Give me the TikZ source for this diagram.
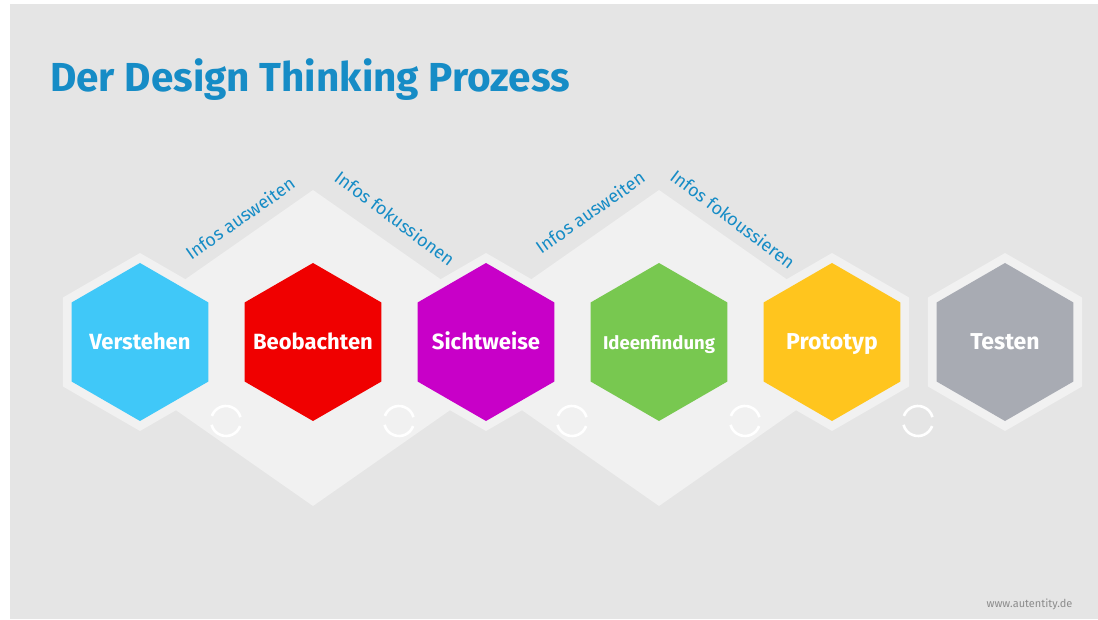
\documentclass[tikz,border=0pt]{standalone}
\usepackage{fontspec}
\setmainfont{Fira Sans}
\usetikzlibrary{positioning}
\definecolor{bggray}{HTML}{E5E5E5}
\definecolor{ringgray}{HTML}{F1F1F1}
\definecolor{rhombgray}{HTML}{F1F1F1}
\definecolor{titleblue}{HTML}{168CC6}
\definecolor{cVerstehen}{HTML}{40C8F8}
\definecolor{cBeobachten}{HTML}{F00000}
\definecolor{cSichtweise}{HTML}{C800C8}
\definecolor{cIdeen}{HTML}{78C850}
\definecolor{cPrototyp}{HTML}{FFC51E}
\definecolor{cTesten}{HTML}{A8ABB3}
\tikzset{
  hexring/.style={fill=ringgray},
  hexlabel/.style={text=white, anchor=base, font=\fontsize{#1}{#1}\selectfont\bfseries},
  infolabel/.style={text=titleblue, font=\fontsize{18}{18}\selectfont},
  loopicon/.style={draw=white, line width=2.6pt},
  rhombus/.style={fill=rhombgray}
}

\begin{document}
\begin{tikzpicture}[x=1pt,y=-1pt]
\useasboundingbox (0,0) rectangle (1098,620);
\fill[white] (0,0) rectangle (1098,620);
\fill[bggray] (10,4) rectangle (1098,619);

%Titel
\node[anchor=base west, inner sep=0pt, text=titleblue,
  font=\fontsize{40.5}{40.5}\selectfont\bfseries] (title) at (50,92)
  {Der Design Thinking Prozess};

%Rauten
\fill[rhombus] (313,190) -- (87,348) -- (313,506) -- (539,348) -- cycle;
\fill[rhombus] (659,190) -- (433,348) -- (659,506) -- (885,348) -- cycle;

%Waben
\foreach \i/\name/\col/\fs in {0/Verstehen/cVerstehen/22,
  1/Beobachten/cBeobachten/22, 2/Sichtweise/cSichtweise/22,
  3/Ideenfindung/cIdeen/18.5, 4/Prototyp/cPrototyp/23, 5/Testen/cTesten/23}{
  \pgfmathsetmacro\cx{140+173*\i}
  \fill[hexring] (\cx,342) +(90:89) -- +(150:89) -- +(210:89)
    -- +(270:89) -- +(330:89) -- +(30:89) -- cycle;
  \fill[\col] (\cx,342) +(90:79) -- +(150:79) -- +(210:79)
    -- +(270:79) -- +(330:79) -- +(30:79) -- cycle;
  \node[hexlabel=\fs] (hex\i) at (\cx,350) {\name};
}

%Kreislauf-Symbole
\foreach \i in {0,...,4}{
  \pgfmathsetmacro\cx{226+173*\i}
  \coordinate (loop\i) at (\cx,421);
  \draw[loopicon] (loop\i) ++(20:15) arc (20:165:15);
  \draw[loopicon] (loop\i) ++(200:15) arc (200:345:15);
}

%Beschriftungen
\node[infolabel, rotate=35] (aus1) at (240,218) {Infos ausweiten};
\node[infolabel, rotate=-37] (fok1) at (395,218) {Infos fokussionen};
\node[infolabel, rotate=35] (aus2) at (590,212) {Infos ausweiten};
\node[infolabel, rotate=-37] (fok2) at (733,219) {Infos fokoussieren};

\node[anchor=east, text=gray!90, font=\fontsize{11}{11}\selectfont] (web) at (1076,604) {www.autentity.de};
\end{tikzpicture}
\end{document}
